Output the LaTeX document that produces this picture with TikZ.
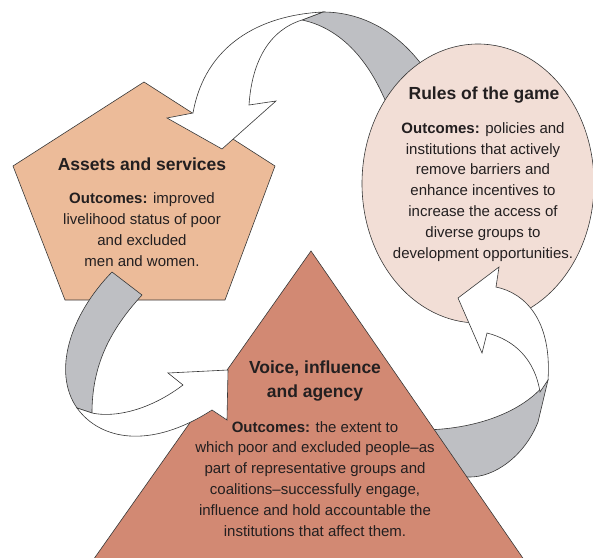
\documentclass[tikz,border=0pt]{standalone}
\usepackage{fontspec}
\setmainfont{Liberation Sans}
\usepackage{xcolor}
\usetikzlibrary{positioning}

\definecolor{assetfill}{RGB}{236,187,153}
\definecolor{rulesfill}{RGB}{242,222,214}
\definecolor{voicefill}{RGB}{210,137,115}
\definecolor{ribbongray}{RGB}{190,191,195}
\definecolor{edgegray}{RGB}{55,55,55}
\definecolor{inkgray}{RGB}{35,31,32}

\begin{document}
\begin{tikzpicture}[x=1pt, y=-1pt,
  shapeline/.style={draw=edgegray, line width=0.6pt, line join=miter},
  ribbonfront/.style={shapeline, fill=white},
  ribbonback/.style={shapeline, fill=ribbongray},
  headline/.style={font=\fontsize{17.5}{24}\selectfont\bfseries, text=inkgray,
    align=center, anchor=base, inner sep=0pt},
  outcome/.style={font=\fontsize{15}{20.8}\selectfont, text=inkgray,
    align=center, anchor=base, inner sep=0pt}]

\useasboundingbox (0,0) rectangle (593,557);

\begin{scope}
  \clip (0,0) rectangle (593,557);

  % back of the ribbon going up into the rules circle
  \filldraw[ribbonback] (420,430) .. controls (475,430) and (525,412) .. (548,380)
    -- (538,422) .. controls (525,455) and (495,478) .. (468,477)
    -- (440,476) -- cycle;

  % voice triangle
  \filldraw[shapeline, fill=voicefill] (311,251) -- (538,580) -- (79,580) -- cycle;

  % back of the top ribbon, tucked under the circle
  \filldraw[ribbonback] (302,20) -- (323,12) .. controls (365,12) and (405,35) .. (432,80)
    -- (392,118) .. controls (372,60) and (340,28) .. (302,20) -- cycle;

  % rules circle
  \filldraw[shapeline, fill=rulesfill] (478,183.5) ellipse [x radius=116, y radius=139.5];

  % assets pentagon
  \filldraw[shapeline, fill=assetfill]
    (144,82) -- (275,166) -- (225,300) -- (65,300) -- (13,166) -- cycle;

  % top ribbon: rules -> assets
  \filldraw[ribbonfront] (302,20) -- (323,12) .. controls (260,15) and (205,45) .. (193,113)
    -- (167,118) -- (222,149) -- (276,101) -- (249,105)
    .. controls (252,60) and (270,30) .. (302,20) -- cycle;

  % left ribbon: assets -> voice
  \filldraw[ribbonback] (112,272) -- (142,295) .. controls (110,330) and (92,365) .. (92,413)
    -- (77,408) .. controls (52,372) and (70,315) .. (112,272) -- cycle;
  \filldraw[ribbonfront] (77,408) .. controls (100,440) and (150,450) .. (212,410)
    -- (227,420) -- (228,370) -- (168,373) -- (183,385)
    .. controls (150,410) and (115,418) .. (92,413) -- cycle;

  % right ribbon: voice -> rules
  \filldraw[ribbonfront] (499,267) -- (496,287) .. controls (525,293) and (552,320) .. (548,380)
    -- (540,392) .. controls (535,360) and (515,340) .. (487,333)
    -- (482,353) -- (458,298) -- cycle;
\end{scope}

% texts (base = baseline of the last line)
\node[headline] (assets-title) at (142,170) {Assets and services};
\node[outcome] (assets-text) at (142,266)
  {\textbf{Outcomes:} improved\\ livelihood status of poor\\ and excluded\\ men and women.};

\node[headline] (rules-title) at (484,99) {Rules of the game};
\node[outcome] (rules-text) at (483,258)
  {\textbf{Outcomes:} policies and\\ institutions that actively\\ remove barriers and\\
   enhance incentives to\\ increase the access of\\ diverse groups to\\
   development opportunities.};

\node[headline] (voice-title) at (315,397) {Voice, influence\\ and agency};
\node[outcome] (voice-text) at (315,536)
  {\textbf{Outcomes:} the extent to\\ which poor and excluded people–as\\
   part of representative groups and\\ coalitions–successfully engage,\\
   influence and hold accountable the\\ institutions that affect them.};

\end{tikzpicture}
\end{document}
